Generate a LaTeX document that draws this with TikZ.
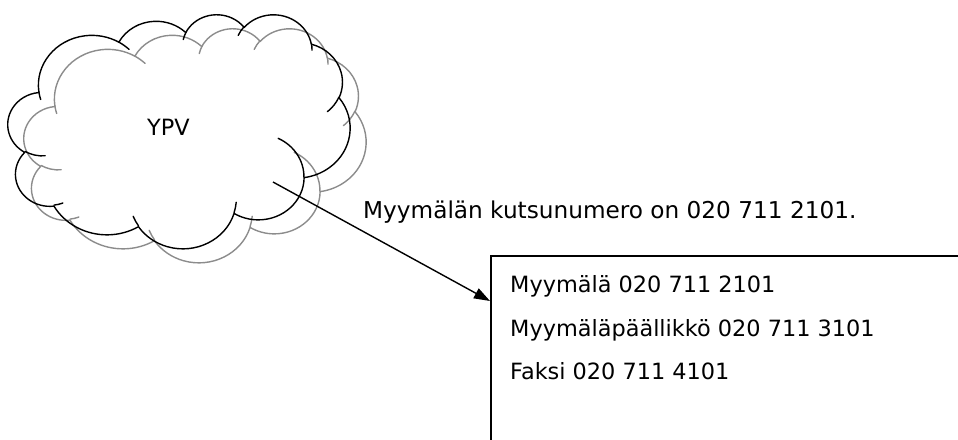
\documentclass[tikz,border=0pt]{standalone}
\usepackage{fontspec}
\setmainfont{DejaVu Sans}
\usetikzlibrary{arrows.meta}

\definecolor{shadowgray}{RGB}{140,140,140}

\tikzset{
  % elliptical arc given as: x radius / y radius / start angle / sweep,
  % with the angles measured as real directions from the centre
  ooarc/.code args={#1/#2/#3/#4}{%
    \pgfmathsetmacro\ooTs{atan2(#1*sin(#3),#2*cos(#3))}%
    \pgfmathsetmacro\ooTe{atan2(#1*sin(#3+#4),#2*cos(#3+#4))}%
    \pgfmathsetmacro\ooD{mod(\ooTe-\ooTs+720,360)}%
    \pgfkeysalso{x radius=#1, y radius=#2, start angle=\ooTs, delta angle=\ooD}%
  },
  cloudline/.style={line width=1.4pt, line join=round, line cap=round},
  txt/.style={inner sep=0pt, anchor=base west, font=\fontsize{22.4}{26}\selectfont},
  notetxt/.style={txt, font=\fontsize{23.2}{27}\selectfont},
  connector/.style={line width=1.4pt, -{Triangle[length=16pt,width=11pt]}},
  numberbox/.style={draw, line width=1.6pt, inner sep=0pt, anchor=north west,
    minimum width=540pt, minimum height=240pt},
  cloud/.pic={
    \begin{scope}[xscale=0.79167, yscale=0.54167]
      % outline made of eleven bumps
      \draw[cloudline] (39.00,143.70)
        arc[ooarc=67.53/91.90/-190.48748/123.78053]
        arc[ooarc=53.33/72.67/-144.10238/89.94523]
        arc[ooarc=43.65/59.45/-145.80792/99.72302]
        arc[ooarc=48.57/65.95/-130.98607/117.24173]
        arc[ooarc=53.33/72.73/-78.70888/109.02692]
        arc[ooarc=67.75/92.20/-46.26725/130.269]
        arc[ooarc=57.85/78.67/0.62502/114.03333]
        arc[ooarc=67.52/92.15/22.4516/115.17255]
        arc[ooarc=77.20/105.43/66.24263/75.71102]
        arc[ooarc=43.60/59.18/-274.94208/146.73557]
        arc[ooarc=43.45/59.45/-246.8285/152.51885]
        -- cycle;
      % short inner arcs continuing the bumps
      \draw[cloudline]
        (46.93,261.77) arc[ooarc=43.45/59.45/86.742/26.4295]
        (69.28,348.99) arc[ooarc=43.60/59.18/73.6105/11.4475]
        (164.78,390.90) arc[ooarc=67.52/92.15/137.6242/14.0811]
        (288.27,347.51) arc[ooarc=67.52/92.15/6.4533/15.9984]
        (341.29,229.54) arc[ooarc=57.85/78.67/-70.2924/70.9174]
        (417.98,153.54) arc[ooarc=53.33/72.73/30.3180/27.7515]
        (383.24,54.26) arc[ooarc=48.57/65.95/-13.7443/14.8589]
        (290.78,39.52) arc[ooarc=48.57/65.95/-149.1815/18.1954]
        (221.41,47.20) arc[ooarc=43.65/59.45/-163.4943/17.6864]
        (140.00,51.92) arc[ooarc=67.53/91.90/-66.7070/12.3194]
        (41.27,157.89) arc[ooarc=67.53/91.90/157.6544/11.8582];
    \end{scope}
  }
}

\begin{document}
\begin{tikzpicture}[x=1pt, y=-1pt]
  \useasboundingbox (0,0) rectangle (958,439);
  \clip (0,0) rectangle (958,439);

  % cloud with its offset grey copy
  \pic[shadowgray] (shadow) at (24,28) {cloud};
  \pic[black] (ypvcloud) at (8,14) {cloud};
  \node[txt] (ypv) at (147,135) {YPV};

  % box of numbers (continues past the page edges)
  \node[numberbox] (numbers) at (490,255) {};
  \node[txt] (line1) at (510,292) {Myymälä 020 711 2101};
  \node[txt] (line2) at (510,336) {Myymäläpäällikkö 020 711 3101};
  \node[txt] (line3) at (510,379) {Faksi 020 711 4101};

  % call number note and arrow
  \node[notetxt] (callnote) at (363,218) {Myymälän kutsunumero on 020 711 2101.};
  \coordinate (arrowfrom) at (273,182);
  \coordinate (arrowto) at (490,301);
  \draw[connector] (arrowfrom) -- (arrowto);
\end{tikzpicture}
\end{document}
